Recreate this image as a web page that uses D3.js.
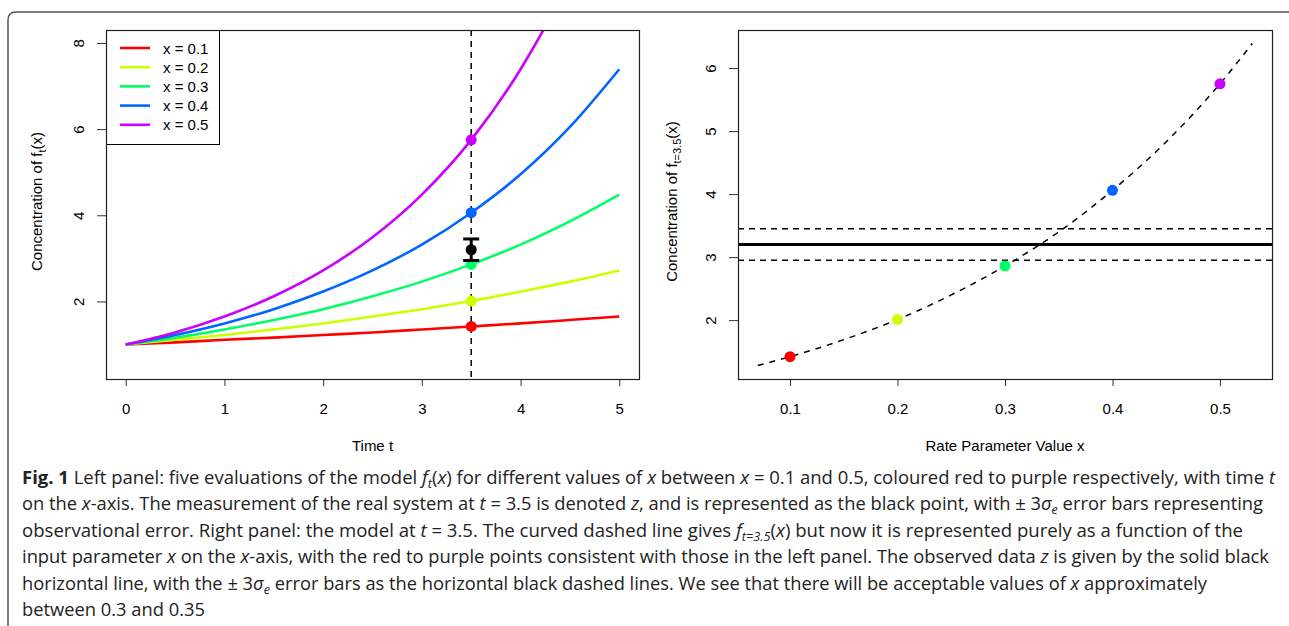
<!DOCTYPE html>
<html>
<head>
<meta charset="utf-8">
<script src="https://cdn.jsdelivr.net/npm/d3@7"></script>
<style>
  body { margin: 0; background: #fff; }
  .ax text { font-family: "Liberation Sans", Arial, sans-serif; font-size: 15px; fill: #000; }
  .ax line { stroke: #333; }
  .ax path { display: none; }
</style>
</head>
<body>
<script>
// values
var timePoints = [0, 0.5, 1, 1.5, 2, 2.5, 3, 3.5, 4, 4.5, 5];
var rateValues = [0.1, 0.2, 0.3, 0.4, 0.5];
var rateColours = ["#FF0000", "#CCFF00", "#00FF66", "#0066FF", "#CC00FF"];
var concX01 = [1, 1.05, 1.11, 1.16, 1.22, 1.28, 1.35, 1.42, 1.49, 1.57, 1.65];
var concX02 = [1, 1.11, 1.22, 1.35, 1.49, 1.65, 1.82, 2.01, 2.23, 2.46, 2.72];
var concX03 = [1, 1.16, 1.35, 1.57, 1.82, 2.12, 2.46, 2.86, 3.32, 3.86, 4.48];
var concX04 = [1, 1.22, 1.49, 1.82, 2.23, 2.72, 3.32, 4.06, 4.95, 6.05, 7.39];
var concX05 = [1, 1.28, 1.65, 2.12, 2.72, 3.49, 4.48, 5.75, 7.39, 9.49, 12.18];
var concAtObs = [1.42, 2.01, 2.86, 4.06, 5.75];

var gridX = [0.07, 0.1, 0.15, 0.2, 0.25, 0.3, 0.35, 0.4, 0.45, 0.5, 0.53];
var gridConc = [1.28, 1.42, 1.69, 2.01, 2.40, 2.86, 3.40, 4.06, 4.83, 5.75, 6.39];

var tObs = 3.5;
var zObs = 3.2;
var zErr = 0.25;

var leftXTicks = [0, 1, 2, 3, 4, 5];
var leftYTicks = [2, 4, 6, 8];
var rightXTicks = [0.1, 0.2, 0.3, 0.4, 0.5];
var rightYTicks = [2, 3, 4, 5, 6];

var allSeries = [concX01, concX02, concX03, concX04, concX05];

var labelFont = '"Liberation Sans", Arial, sans-serif';

var svg = d3.select('body').append('svg')
  .attr('width', 1289)
  .attr('height', 626);

// figure frame
svg.append('path')
  .attr('d', 'M8,626 L8,20 Q8,12 16,12 L1289,12')
  .attr('fill', 'none')
  .attr('stroke', '#555')
  .attr('stroke-width', 1.5);

var box = { top: 30, bottom: 379 };

// ---------- left panel ----------
var xL = d3.scaleLinear().domain([-0.2, 5.2]).range([106, 639]);
var yL = d3.scaleLinear().domain([0.2, 8.3]).range([box.bottom, box.top]);

svg.append('clipPath').attr('id', 'clipL')
  .append('rect')
  .attr('x', xL.range()[0]).attr('y', box.top)
  .attr('width', xL.range()[1] - xL.range()[0])
  .attr('height', box.bottom - box.top);

var lineL = d3.line()
  .x(function(d, i) { return xL(timePoints[i]); })
  .y(function(d) { return yL(d); })
  .curve(d3.curveMonotoneX);

svg.append('g').attr('clip-path', 'url(#clipL)')
  .selectAll('path')
  .data(allSeries)
  .enter()
  .append('path')
  .attr('d', lineL)
  .attr('fill', 'none')
  .attr('stroke', function(d, i) { return rateColours[i]; })
  .attr('stroke-width', 2.6);

svg.append('line')
  .attr('x1', xL(tObs)).attr('x2', xL(tObs))
  .attr('y1', box.top).attr('y2', box.bottom)
  .attr('stroke', '#000')
  .attr('stroke-width', 1.5)
  .attr('stroke-dasharray', '6,5');

svg.append('g').selectAll('circle')
  .data(concAtObs)
  .enter()
  .append('circle')
  .attr('cx', xL(tObs))
  .attr('cy', function(d) { return yL(d); })
  .attr('r', 5.5)
  .attr('fill', function(d, i) { return rateColours[i]; });

// observation with error bars
var eb = svg.append('g').attr('stroke', '#000').attr('stroke-width', 3);
eb.append('line')
  .attr('x1', xL(tObs)).attr('x2', xL(tObs))
  .attr('y1', yL(zObs - zErr)).attr('y2', yL(zObs + zErr));
[zObs - zErr, zObs + zErr].forEach(function(v) {
  eb.append('line')
    .attr('x1', xL(tObs) - 8).attr('x2', xL(tObs) + 8)
    .attr('y1', yL(v)).attr('y2', yL(v));
});
svg.append('circle')
  .attr('cx', xL(tObs)).attr('cy', yL(zObs))
  .attr('r', 5.5).attr('fill', '#000');

// legend
var leg = svg.append('g');
leg.append('rect')
  .attr('x', 106.5).attr('y', 30.5)
  .attr('width', 113).attr('height', 114)
  .attr('fill', '#fff').attr('stroke', '#000');
var legItems = leg.selectAll('g.item')
  .data(rateValues)
  .enter()
  .append('g')
  .attr('class', 'item')
  .attr('transform', function(d, i) { return 'translate(0,' + (48 + i * 19.2) + ')'; });
legItems.append('line')
  .attr('x1', 120).attr('x2', 150)
  .attr('stroke', function(d, i) { return rateColours[i]; })
  .attr('stroke-width', 2.6);
legItems.append('text')
  .attr('x', 163).attr('y', 5.5)
  .style('font-family', labelFont)
  .style('font-size', '15px')
  .text(function(d) { return 'x = ' + d; });

drawAxes(xL, yL, leftXTicks, leftYTicks, d3.format('d'), d3.format('d'));

svg.append('text')
  .attr('x', (xL.range()[0] + xL.range()[1]) / 2).attr('y', 451)
  .attr('text-anchor', 'middle')
  .style('font-family', labelFont).style('font-size', '15px')
  .text('Time t');

yTitle(42, 't');

// ---------- right panel ----------
var xR = d3.scaleLinear().domain([0.0516, 0.5484]).range([738, 1272]);
var yR = d3.scaleLinear().domain([1.0656, 6.6044]).range([box.bottom, box.top]);

var lineR = d3.line()
  .x(function(d, i) { return xR(gridX[i]); })
  .y(function(d) { return yR(d); })
  .curve(d3.curveMonotoneX);

svg.append('path')
  .datum(gridConc)
  .attr('d', lineR)
  .attr('fill', 'none')
  .attr('stroke', '#000')
  .attr('stroke-width', 1.5)
  .attr('stroke-dasharray', '6,6');

svg.append('line')
  .attr('x1', xR.range()[0]).attr('x2', xR.range()[1])
  .attr('y1', yR(zObs)).attr('y2', yR(zObs))
  .attr('stroke', '#000').attr('stroke-width', 3);

[zObs - zErr, zObs + zErr].forEach(function(v) {
  svg.append('line')
    .attr('x1', xR.range()[0]).attr('x2', xR.range()[1])
    .attr('y1', yR(v)).attr('y2', yR(v))
    .attr('stroke', '#000').attr('stroke-width', 1.5)
    .attr('stroke-dasharray', '6,5');
});

svg.append('g').selectAll('circle')
  .data(concAtObs)
  .enter()
  .append('circle')
  .attr('cx', function(d, i) { return xR(rateValues[i]); })
  .attr('cy', function(d) { return yR(d); })
  .attr('r', 5.5)
  .attr('fill', function(d, i) { return rateColours[i]; });

drawAxes(xR, yR, rightXTicks, rightYTicks, d3.format('.1f'), d3.format('d'));

svg.append('text')
  .attr('x', (xR.range()[0] + xR.range()[1]) / 2).attr('y', 451)
  .attr('text-anchor', 'middle')
  .style('font-family', labelFont).style('font-size', '15px')
  .text('Rate Parameter Value x');

yTitle(677, 't=3.5');

function drawAxes(x, y, xt, yt, fx, fy) {
  svg.append('g').attr('class', 'ax')
    .attr('transform', 'translate(0,' + box.bottom + ')')
    .call(d3.axisBottom(x).tickValues(xt).tickFormat(fx).tickSize(7).tickSizeOuter(0).tickPadding(17));

  var ga = svg.append('g').attr('class', 'ax')
    .attr('transform', 'translate(' + x.range()[0] + ',0)')
    .call(d3.axisLeft(y).tickValues(yt).tickFormat(fy).tickSize(9).tickSizeOuter(0));
  ga.selectAll('text')
    .attr('x', 0).attr('dy', null)
    .attr('text-anchor', 'middle')
    .attr('transform', 'translate(-22,0) rotate(-90)');

  svg.append('rect')
    .attr('x', x.range()[0] + 0.5).attr('y', box.top + 0.5)
    .attr('width', x.range()[1] - x.range()[0])
    .attr('height', box.bottom - box.top)
    .attr('fill', 'none').attr('stroke', '#222').attr('stroke-width', 1.2);
}

function yTitle(cx, sub) {
  var t = svg.append('text')
    .attr('transform', 'translate(' + cx + ',' + ((box.top + box.bottom) / 2 - 3) + ') rotate(-90)')
    .attr('text-anchor', 'middle')
    .style('font-family', labelFont).style('font-size', '15px');
  t.append('tspan').text('Concentration of f');
  t.append('tspan').attr('dy', 4).style('font-size', '11px').text(sub);
  t.append('tspan').attr('dy', -4).text('(x)');
}

// ---------- caption ----------
var captionLines = [
  [['Fig. 1', 'b'], [' Left panel: five evaluations of the model ', ''], ['f', 'i'], ['t', 'sub'], ['(', ''], ['x', 'i'], [') for different values of ', ''], ['x', 'i'], [' between ', ''], ['x', 'i'], [' = 0.1 and 0.5, coloured red to purple respectively, with time ', ''], ['t', 'i']],
  [['on the ', ''], ['x', 'i'], ['-axis. The measurement of the real system at ', ''], ['t', 'i'], [' = 3.5 is denoted ', ''], ['z', 'i'], [', and is represented as the black point, with \u00b1 3', ''], ['\u03c3', 'i'], ['e', 'sub'], [' error bars representing', '']],
  [['observational error. Right panel: the model at ', ''], ['t', 'i'], [' = 3.5. The curved dashed line gives ', ''], ['f', 'i'], ['t=3.5', 'sub'], ['(', ''], ['x', 'i'], [') but now it is represented purely as a function of the', '']],
  [['input parameter ', ''], ['x', 'i'], [' on the ', ''], ['x', 'i'], ['-axis, with the red to purple points consistent with those in the left panel. The observed data ', ''], ['z', 'i'], [' is given by the solid black', '']],
  [['horizontal line, with the \u00b1 3', ''], ['\u03c3', 'i'], ['e', 'sub'], [' error bars as the horizontal black dashed lines. We see that there will be acceptable values of ', ''], ['x', 'i'], [' approximately', '']],
  [['between 0.3 and 0.35', '']]
];
var captionWidths = [1253, 1241, 1221, 1247, 1185, 183];

captionLines.forEach(function(segs, li) {
  var t = svg.append('text')
    .attr('x', 22)
    .attr('y', 484 + li * 26.4)
    .attr('textLength', captionWidths[li])
    .attr('lengthAdjust', 'spacingAndGlyphs')
    .style('font-family', '"Open Sans", "Noto Sans", sans-serif')
    .style('font-size', '17.5px')
    .style('fill', '#222');
  var shifted = false;
  segs.forEach(function(s) {
    var ts = t.append('tspan').text(s[0]);
    if (s[1] === 'b') ts.style('font-weight', 'bold');
    if (s[1] === 'i') ts.style('font-style', 'italic');
    if (s[1] === 'sub') {
      ts.style('font-style', 'italic').style('font-size', '12px').attr('dy', 4);
      shifted = true;
    } else if (shifted) {
      ts.attr('dy', -4);
      shifted = false;
    }
  });
});
</script>
</body>
</html>
